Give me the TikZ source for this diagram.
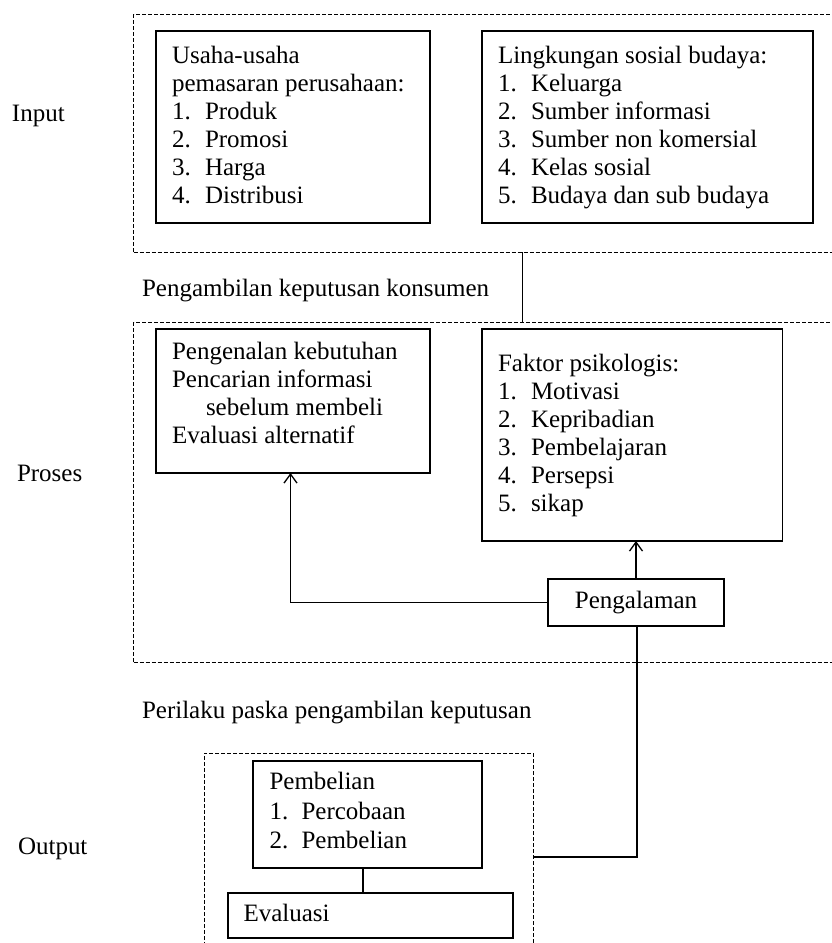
\documentclass[tikz,border=0pt]{standalone}
\usepackage{fontspec}
\setmainfont{Liberation Serif}
\usetikzlibrary{arrows.meta}
\newcommand\lstbox[1]{\begin{tabular}{@{}l@{}}#1\end{tabular}}
\newcommand\itm[2]{\makebox[33pt][l]{#1}#2}
\begin{document}
\begin{tikzpicture}[x=1pt,y=-1pt,
  solidbox/.style={draw, line width=1.4pt, inner sep=0pt, outer sep=0pt},
  dashbox/.style={draw, line width=1pt, dash pattern=on 4pt off 2pt, inner sep=0pt, outer sep=0pt},
  txt/.style={inner sep=0pt, outer sep=0pt, font=\fontsize{25}{28}\selectfont},
  conn/.style={line width=1.3pt},
  arr/.style={line width=1.3pt, -{Straight Barb[length=9pt,width=13pt,line width=1.3pt]}}]
\useasboundingbox (0,0) rectangle (832,943);
\fill[white] (0,0) rectangle (832,943);

% dashed section frames
\node[dashbox, minimum width=736pt, minimum height=238pt] (inputbox) at (501.6,133) {};
\node[dashbox, minimum width=736pt, minimum height=340pt] (prosesbox) at (501.6,492) {};
\node[dashbox, minimum width=329.6pt, minimum height=220pt] (outbox) at (368.8,863) {};

% section labels
\node[txt, anchor=base west] (linput) at (12,121) {Input};
\node[txt, anchor=base west] (lproses) at (17,481) {Proses};
\node[txt, anchor=base west] (loutput) at (18,854) {Output};
\node[txt, anchor=base west] (lpengambilan) at (142,296) {Pengambilan keputusan konsumen};
\node[txt, anchor=base west] (lperilaku) at (142,718) {Perilaku paska pengambilan keputusan};

% input boxes
\node[solidbox, minimum width=274pt, minimum height=192pt] (usaha) at (293,127) {};
\node[txt, anchor=north west] (usahatxt) at (172,43.4) {\lstbox{Usaha-usaha\\pemasaran perusahaan:\\\itm{1.}{Produk}\\\itm{2.}{Promosi}\\\itm{3.}{Harga}\\\itm{4.}{Distribusi}}};

\node[solidbox, minimum width=331pt, minimum height=192pt] (ling) at (647.5,127) {};
\node[txt, anchor=north west] (lingtxt) at (498,43.4) {\lstbox{Lingkungan sosial budaya:\\\itm{1.}{Keluarga}\\\itm{2.}{Sumber informasi}\\\itm{3.}{Sumber non komersial}\\\itm{4.}{Kelas sosial}\\\itm{5.}{Budaya dan sub budaya}}};

% process boxes
\node[solidbox, minimum width=274pt, minimum height=144pt] (keb) at (293,401) {};
\node[txt, anchor=north west] (kebtxt) at (172,339.4) {\lstbox{Pengenalan kebutuhan\\Pencarian informasi\\\hspace*{34pt}sebelum membeli\\Evaluasi alternatif}};

\node[solidbox, minimum width=300.5pt, minimum height=212pt] (faktor) at (632.25,435) {};
\node[txt, anchor=north west] (faktortxt) at (498,351.4) {\lstbox{Faktor psikologis:\\\itm{1.}{Motivasi}\\\itm{2.}{Kepribadian}\\\itm{3.}{Pembelajaran}\\\itm{4.}{Persepsi}\\\itm{5.}{sikap}}};

\node[solidbox, txt, draw, line width=1.4pt, minimum width=176pt, minimum height=47pt] (peng) at (636,602.5) {Pengalaman};

% output boxes
\node[solidbox, minimum width=229pt, minimum height=107pt] (pemb) at (367.5,814.5) {};
\node[txt, anchor=north west] (pembtxt) at (269.5,769.4) {\renewcommand\arraystretch{1.05}\lstbox{Pembelian\\\makebox[32pt][l]{1.}Percobaan\\\makebox[32pt][l]{2.}Pembelian}};

\node[solidbox, minimum width=285pt, minimum height=45pt] (eval) at (370.5,915.5) {};
\node[txt, anchor=base west] (evaltxt) at (243.5,921) {Evaluasi};

% helper coordinates
\coordinate (c1) at (522.5,0);
\coordinate (c2) at (290.5,0);
\coordinate (c3) at (637,0);
\coordinate (c4) at (0,857);
\coordinate (c5) at (363,0);

% connectors
\draw[conn] (c1 |- inputbox.south) -- (c1 |- prosesbox.north);
\draw[arr] (peng.north) -- (peng.north |- faktor.south);
\draw[arr] (peng.west) -| (c2 |- keb.south);
\draw[conn] (c3 |- peng.south) |- (outbox.east |- c4);
\draw[conn] (c5 |- pemb.south) -- (c5 |- eval.north);
\end{tikzpicture}
\end{document}
